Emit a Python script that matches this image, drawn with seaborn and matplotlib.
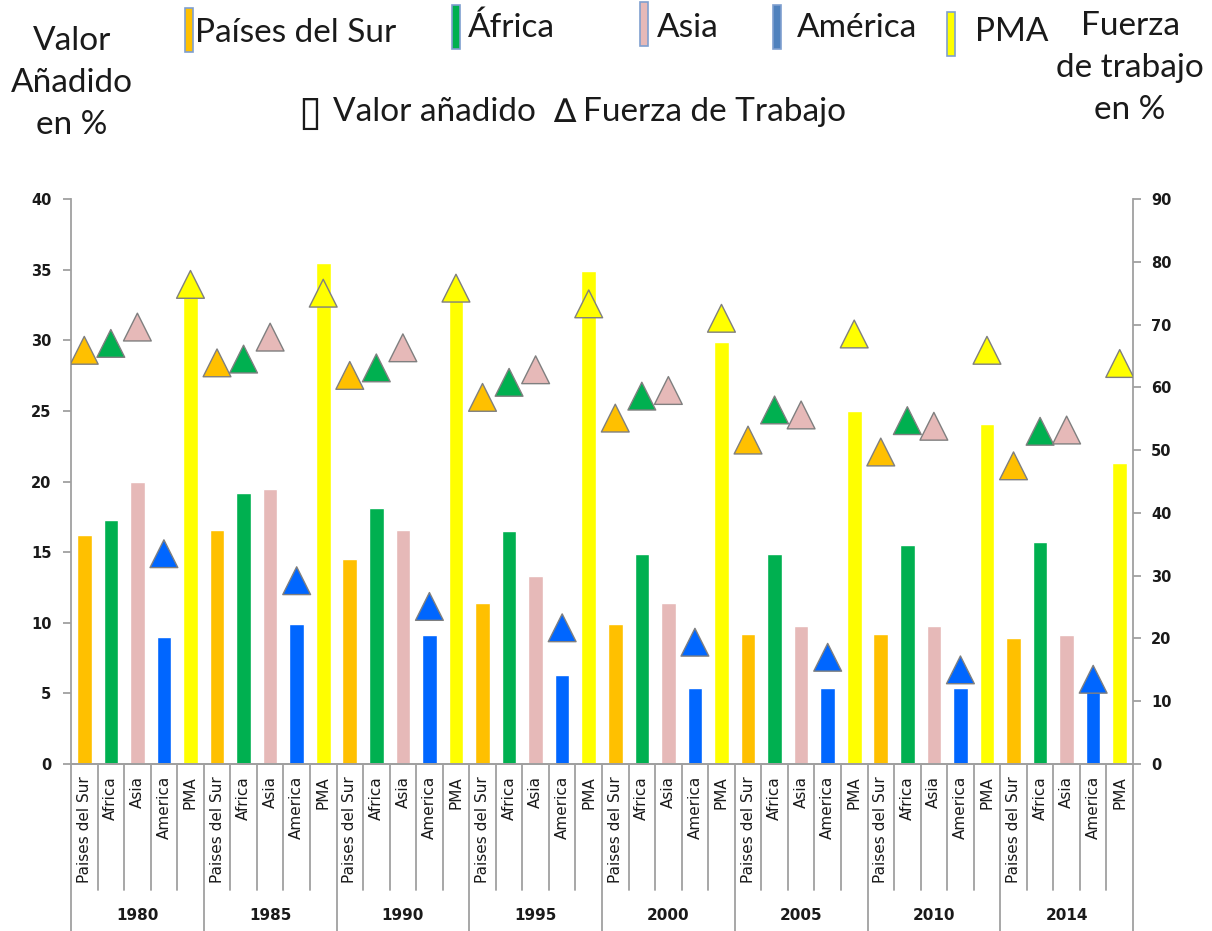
import numpy as np
import pandas as pd
import matplotlib
matplotlib.use("Agg")
import matplotlib.pyplot as plt
import seaborn as sns
from matplotlib import font_manager as fm
from matplotlib.patches import Rectangle
from matplotlib.lines import Line2D
from matplotlib.transforms import blended_transform_factory

# ---------------- data ----------------
years = ['1980', '1985', '1990', '1995', '2000', '2005', '2010', '2014']
cats = ['Paises del Sur', 'Africa', 'Asia', 'America', 'PMA']

valor_pds = [16.2, 16.6, 14.5, 11.4, 9.9, 9.2, 9.2, 8.9]
valor_africa = [17.3, 19.2, 18.1, 16.5, 14.9, 14.9, 15.5, 15.7]
valor_asia = [20.0, 19.5, 16.6, 13.3, 11.4, 9.8, 9.8, 9.1]
valor_america = [9.0, 9.9, 9.1, 6.3, 5.4, 5.4, 5.4, 5.1]
valor_pma = [34.0, 35.5, 33.5, 34.9, 29.9, 25.0, 24.1, 21.3]

fuerza_pds = [65.9, 63.9, 61.9, 58.4, 55.1, 51.6, 49.7, 47.5]
fuerza_africa = [67.0, 64.5, 63.1, 60.8, 58.6, 56.4, 54.7, 53.0]
fuerza_asia = [69.6, 68.0, 66.3, 62.8, 59.5, 55.6, 53.8, 53.2]
fuerza_america = [33.5, 29.2, 25.1, 21.7, 19.4, 17.0, 15.0, 13.5]
fuerza_pma = [76.4, 75.0, 75.8, 73.3, 71.0, 68.5, 65.9, 63.8]

legend_labels = ['Países del Sur', 'África', 'Asia', 'América', 'PMA']

colors = {'Paises del Sur': '#FFC000', 'Africa': '#00B050', 'Asia': '#E6B9B8',
          'America': '#0066FF', 'PMA': '#FFFF00'}
legend_colors = ['#FFC000', '#00B050', '#E6B9B8', '#4F81BD', '#FFFF00']

valores = [valor_pds, valor_africa, valor_asia, valor_america, valor_pma]
fuerzas = [fuerza_pds, fuerza_africa, fuerza_asia, fuerza_america, fuerza_pma]

rows = []
for yi, y in enumerate(years):
    for ci, c in enumerate(cats):
        rows.append({'slot': yi * 5 + ci, 'year': y, 'cat': c,
                     'valor': valores[ci][yi], 'fuerza': fuerzas[ci][yi]})
df = pd.DataFrame(rows)

# ---------------- style ----------------
sns.set_style('white')
names = {f.name for f in fm.fontManager.ttflist}
narrow = 'Liberation Sans Narrow' in names
head_font = 'Liberation Sans Narrow' if narrow else 'Lato'
head_size = 28 if narrow else 24
plt.rcParams['font.family'] = ['DejaVu Sans']

W, H = 1212, 931
fig = plt.figure(figsize=(W / 100, H / 100), dpi=100)
ax_left, ax_right, ax_top, ax_bot = 71, 1133, 199, 764
ax = fig.add_axes([ax_left / W, 1 - ax_bot / H, (ax_right - ax_left) / W, (ax_bot - ax_top) / H])

sns.barplot(data=df, x='slot', y='valor', hue='cat', hue_order=cats, palette=colors,
            dodge=False, width=0.55, saturation=1, legend=False, ax=ax)
ax.set_xlim(-0.5, 39.5)
ax.set_ylim(0, 40)
ax.set_yticks(range(0, 41, 5))
ax.set_xticks([])
ax.set_xlabel('')
ax.set_ylabel('')

ax2 = ax.twinx()
sns.scatterplot(data=df, x='slot', y='fuerza', hue='cat', hue_order=cats, palette=colors,
                marker='^', s=400, edgecolor='#7F7F7F', linewidth=1.0, legend=False,
                ax=ax2, zorder=5)
ax2.set_xlim(-0.5, 39.5)
ax2.set_ylim(0, 90)
ax2.set_yticks(range(0, 91, 10))
ax2.set_ylabel('')
ax2.set_xlabel('')

spine_col = '#A0A0A0'
for a in (ax, ax2):
    a.spines['top'].set_visible(False)
    for s in ('left', 'right', 'bottom'):
        a.spines[s].set_color(spine_col)
        a.spines[s].set_linewidth(1.3)
    a.tick_params(axis='y', direction='out', length=6, width=1.3, color=spine_col,
                  labelsize=10.5, labelcolor='#1A1A1A')
ax.tick_params(axis='y', pad=8)
ax2.tick_params(axis='y', pad=7)
ax.spines['right'].set_visible(False)
ax2.spines['left'].set_visible(False)
for lbl in ax.get_yticklabels() + ax2.get_yticklabels():
    lbl.set_fontweight('bold')

# x-axis multi-level labels
tr = blended_transform_factory(ax.transData, ax.transAxes)
ph = ax_bot - ax_top
cat_sep = -(890 - ax_bot) / ph
year_sep = -(931 - ax_bot) / ph
for b in range(41):
    x = b - 0.5
    y0 = year_sep if b % 5 == 0 else cat_sep
    ax.add_line(Line2D([x, x], [0, y0], transform=tr, clip_on=False,
                       color=spine_col, lw=1.3))
for i, row in df.iterrows():
    ax.text(row['slot'], -(776 - ax_bot) / ph, row['cat'], transform=tr, rotation=90,
            ha='center', va='top', fontsize=11, color='#1A1A1A')
for yi, y in enumerate(years):
    ax.text(yi * 5 + 2, -(915 - ax_bot) / ph, y, transform=tr, ha='center', va='center',
            fontsize=11, fontweight='bold', color='#1A1A1A')

# ---------------- header / legend ----------------
def fx(x):
    return x / W

def fy(y):
    return 1 - y / H

ls = 1.48
fig.text(fx(72), fy(83), 'Valor\nAñadido\nen %', ha='center', va='center',
         fontsize=head_size, family=[head_font, 'DejaVu Sans'], linespacing=ls, color='#1A1A1A')
fig.text(fx(1130), fy(68), 'Fuerza\nde trabajo\nen %', ha='center', va='center',
         fontsize=head_size, family=[head_font, 'DejaVu Sans'], linespacing=ls, color='#1A1A1A')

patch_x = [185, 452, 640, 773, 947]
patch_y = [8, 5, 2, 5, 12]
text_x = [195, 468, 657, 797, 975]
text_y = [33, 28, 28, 28, 32]
for px, py, tx, ty, lab, col in zip(patch_x, patch_y, text_x, text_y, legend_labels, legend_colors):
    fig.add_artist(Rectangle((fx(px), fy(py + 44)), 8 / W, 44 / H, transform=fig.transFigure,
                             facecolor=col, edgecolor='#7F9FCF', lw=1.2))
    fig.text(fx(tx), fy(ty), lab, ha='left', va='center', fontsize=head_size,
             family=[head_font, 'DejaVu Sans'], color='#1A1A1A')

fig.text(fx(298), fy(113), '▯', ha='left', va='center', fontsize=30,
         family=['DejaVu Sans'], color='#1A1A1A')
fig.text(fx(333), fy(112), 'Valor añadido', ha='left', va='center', fontsize=head_size,
         family=[head_font, 'DejaVu Sans'], color='#1A1A1A')
fig.text(fx(553), fy(113), '∆', ha='left', va='center', fontsize=head_size,
         family=[head_font, 'DejaVu Sans'], color='#1A1A1A')
fig.text(fx(583), fy(112), 'Fuerza de Trabajo', ha='left', va='center', fontsize=head_size,
         family=[head_font, 'DejaVu Sans'], color='#1A1A1A')

fig.savefig('out.png', dpi=100)
